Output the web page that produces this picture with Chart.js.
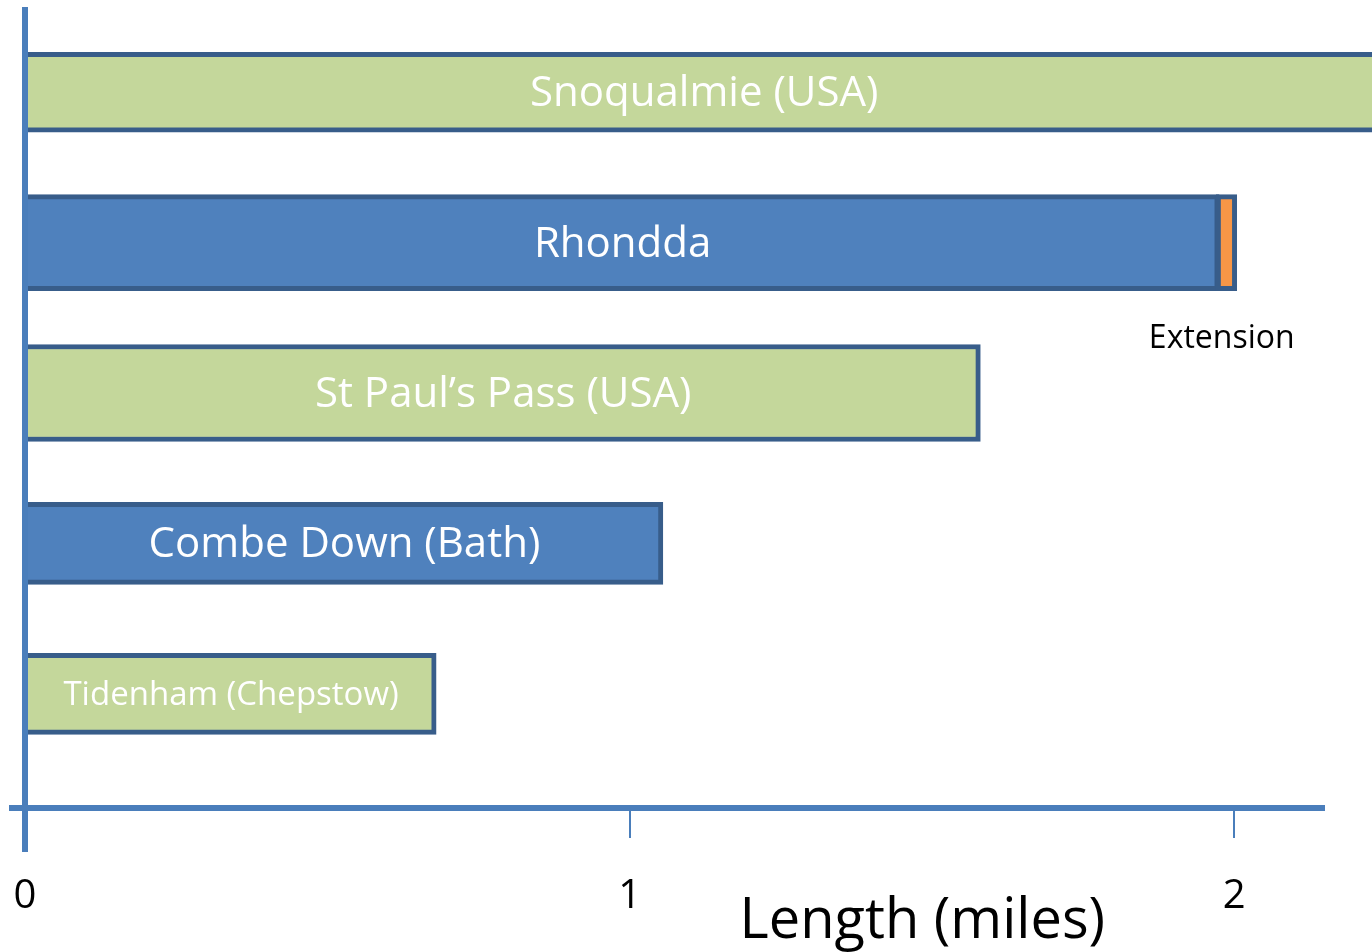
<!DOCTYPE html>
<html>
<head>
<meta charset="utf-8">
<title>Tunnel lengths</title>
<script src="https://cdn.jsdelivr.net/npm/chart.js@4.4.1/dist/chart.umd.min.js"></script>
<style>
  body { margin: 0; background: #ffffff; }
  #wrap { width: 1372px; height: 952px; }
</style>
</head>
<body>
<div id="wrap"><canvas id="tunnelChart" width="1372" height="952"></canvas></div>
<script>
// data
const tunnels = ["Snoqualmie (USA)", "Rhondda", "St Paul\u2019s Pass (USA)", "Combe Down (Bath)", "Tidenham (Chepstow)"];
const lengths = [2.245, 1.975, 1.58, 1.055, 0.68];
const extensionRow = 1;
const extensionRange = [1.97, 2.004];
const extensionLabel = "Extension";
const tickValues = [0, 1, 2];
const axisTitle = "Length (miles)";

// styles
const GREEN = "#c4d79b";
const BLUE = "#4f81bd";
const ORANGE = "#f79646";
const EDGE = "#385d8a";
const AXIS = "#4a7ebb";
const FONT = "'Open Sans', 'DejaVu Sans', sans-serif";
const fills = [GREEN, BLUE, GREEN, BLUE, GREEN];
const thickness = [80, 96, 97, 82, 81];
const labelSize = [42, 42, 42, 42, 33];

let datasets = tunnels.map(function (name, i) {
  return {
    label: name,
    data: [{ x: lengths[i], y: i }],
    backgroundColor: fills[i],
    borderColor: EDGE,
    borderWidth: 5,
    borderSkipped: "start",
    barThickness: thickness[i],
    grouped: false,
    clip: false,
    order: 1
  };
});

// the small orange extension on the end of Rhondda
datasets.push({
  label: extensionLabel,
  data: [{ x: extensionRange, y: extensionRow }],
  backgroundColor: ORANGE,
  borderColor: EDGE,
  borderWidth: 5,
  borderSkipped: false,
  barThickness: thickness[extensionRow],
  grouped: false,
  clip: false,
  order: 0
});

// axis lines, bar names and the titles
function drawAxisLines(chart) {
  const ctx = chart.ctx;
  const area = chart.chartArea;
  const x0 = chart.scales.x.getPixelForValue(0);
  ctx.save();
  ctx.fillStyle = AXIS;
  ctx.fillRect(x0 - 3, area.top - 1, 6, area.bottom + 45 - area.top);
  ctx.fillRect(x0 - 16, area.bottom - 3, area.right - x0 + 16, 6);
  ctx.restore();
}

const decorations = {
  id: "decorations",
  beforeDatasetsDraw: function (chart) {
    drawAxisLines(chart);
  },
  afterDatasetsDraw: function (chart) {
    const ctx = chart.ctx;
    const area = chart.chartArea;
    drawAxisLines(chart);
    ctx.save();
    ctx.textAlign = "center";
    ctx.textBaseline = "middle";
    ctx.fillStyle = "#ffffff";
    tunnels.forEach(function (name, i) {
      const bar = chart.getDatasetMeta(i).data[0];
      ctx.font = labelSize[i] + "px " + FONT;
      ctx.fillText(name, (bar.base + bar.x) / 2, bar.y + 2);
    });

    const ext = chart.getDatasetMeta(tunnels.length).data[0];
    ctx.fillStyle = "#000000";
    ctx.font = "32px " + FONT;
    ctx.textBaseline = "alphabetic";
    ctx.fillText(extensionLabel, ext.x - 15, ext.y + ext.height / 2 + 57);

    ctx.font = "56px " + FONT;
    ctx.fillText(axisTitle, chart.scales.x.getPixelForValue(1.484), area.bottom + 130);
    ctx.restore();
  }
};

const ctx = document.getElementById("tunnelChart").getContext("2d");
new Chart(ctx, {
  type: "bar",
  data: { datasets: datasets },
  options: {
    indexAxis: "y",
    responsive: false,
    animation: false,
    devicePixelRatio: 1,
    layout: { padding: { left: 25, right: 47, top: 8, bottom: 0 } },
    plugins: {
      legend: { display: false },
      tooltip: { enabled: false }
    },
    scales: {
      x: {
        type: "linear",
        min: 0,
        max: 2.15,
        afterFit: function (scale) {
          scale.height = 144;
          scale.paddingLeft = 0;
          scale.paddingRight = 0;
        },
        afterBuildTicks: function (scale) {
          scale.ticks = tickValues.map(function (v) { return { value: v }; });
        },
        border: { display: false },
        grid: {
          drawOnChartArea: false,
          drawTicks: true,
          tickLength: 30,
          lineWidth: 2,
          color: AXIS
        },
        ticks: {
          padding: 35,
          color: "#000000",
          font: { family: FONT, size: 40 },
          maxRotation: 0
        }
      },
      y: {
        type: "linear",
        display: false,
        offset: false,
        reverse: true,
        min: -0.56,
        max: 4.759
      }
    }
  },
  plugins: [decorations]
});
</script>
</body>
</html>
